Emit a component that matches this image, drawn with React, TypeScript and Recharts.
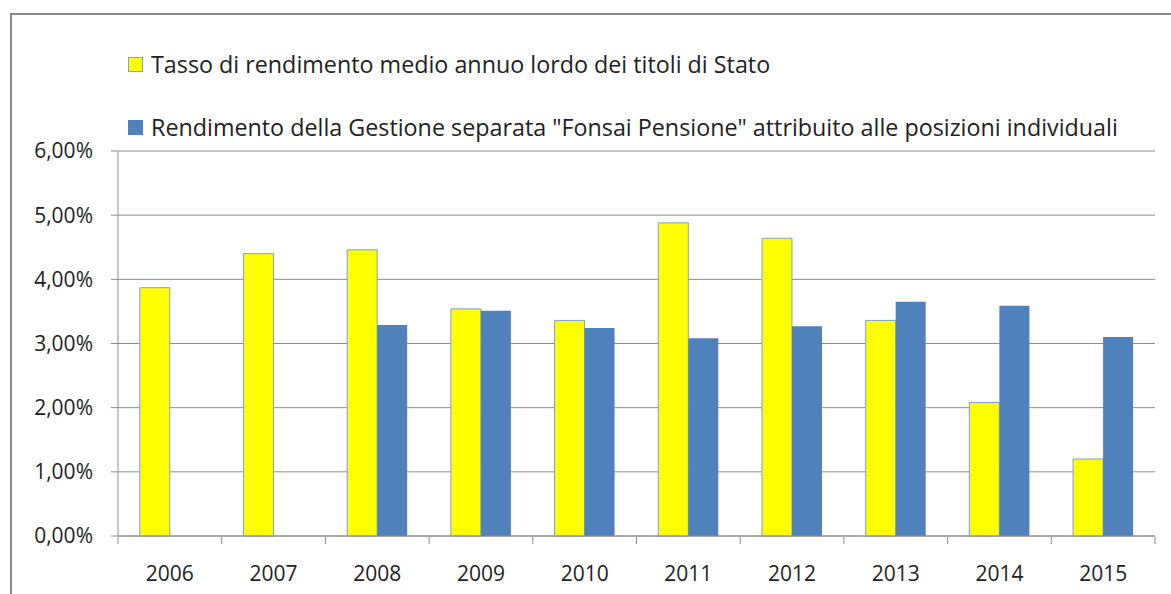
import React from 'react';
import { BarChart, Bar, XAxis, YAxis, CartesianGrid } from 'recharts';

const years = ['2006', '2007', '2008', '2009', '2010', '2011', '2012', '2013', '2014', '2015'];
const tassoTitoli = [3.87, 4.4, 4.46, 3.54, 3.36, 4.88, 4.64, 3.36, 2.08, 1.2];
const rendimentoGestione = [null, null, 3.29, 3.51, 3.24, 3.08, 3.27, 3.65, 3.59, 3.1];
const yTicks = [0, 1, 2, 3, 4, 5, 6];
const seriesNames = [
  'Tasso di rendimento medio annuo lordo dei titoli di Stato',
  'Rendimento della Gestione separata "Fonsai Pensione" attribuito alle posizioni individuali',
];

const FONT = '"Open Sans", sans-serif';
const GRID = '#8c8c8c';

const chartData = years.map((year, i) => ({
  year,
  tasso: tassoTitoli[i],
  gestione: rendimentoGestione[i],
}));

// label centred in the band, tick line on the band's left edge (and right edge for the last one)
const YearTick = (props: any) => {
  const { x, y, payload, index } = props;
  const half = 1037 / years.length / 2;
  return (
    <g>
      <line x1={x - half} y1={y - 7} x2={x - half} y2={y} stroke={GRID} />
      {index === years.length - 1 && (
        <line x1={x + half} y1={y - 7} x2={x + half} y2={y} stroke={GRID} />
      )}
      <text x={x} y={y + 37} textAnchor="middle" fontFamily={FONT} fontSize={21} fill="#222">
        {payload.value}
      </text>
    </g>
  );
};

const LegendRow = ({ color, border, label, top }: { color: string; border: string; label: string; top: number }) => (
  <div style={{ position: 'absolute', left: 128, top, height: 24, display: 'flex', alignItems: 'center', whiteSpace: 'nowrap' }}>
    <div style={{ width: 13, height: 13, background: color, border: `1px solid ${border}`, marginRight: 8 }} />
    <span style={{ fontFamily: FONT, fontSize: 23.3, lineHeight: '24px', color: '#222' }}>{label}</span>
  </div>
);

export default function App() {
  return (
    <div style={{ position: 'absolute', left: 0, top: 0, width: 1171, height: 594, background: '#fff', overflow: 'hidden' }}>
      <div
        style={{
          position: 'absolute',
          left: 10,
          top: 13,
          width: 1200,
          height: 620,
          borderLeft: '2px solid #888',
          borderTop: '2px solid #888',
        }}
      />
      <LegendRow color="#ffff00" border="#7f9fcf" label={seriesNames[0]} top={52} />
      <LegendRow color="#4f81bd" border="#4f81bd" label={seriesNames[1]} top={115} />
      <div style={{ position: 'absolute', left: 0, top: 0 }}>
        <BarChart
          width={1171}
          height={594}
          data={chartData}
          margin={{ top: 151, right: 16, left: 18, bottom: 8 }}
          barCategoryGap="21%"
          barGap={0}
        >
          <CartesianGrid vertical={false} stroke={GRID} />
          <XAxis
            dataKey="year"
            height={50}
            axisLine={{ stroke: GRID }}
            tickLine={false}
            tick={<YearTick />}
            interval={0}
          />
          <YAxis
            width={100}
            domain={[0, 6]}
            ticks={yTicks}
            axisLine={{ stroke: GRID }}
            tickLine={{ stroke: GRID }}
            tickSize={7}
            tickMargin={18}
            tickFormatter={(v: number) => `${v.toFixed(2).replace('.', ',')}%`}
            tick={{ fontFamily: FONT, fontSize: 21, fill: '#222' }}
          />
          <Bar dataKey="tasso" name={seriesNames[0]} fill="#ffff00" stroke="#7f9fcf" strokeWidth={1} isAnimationActive={false} />
          <Bar dataKey="gestione" name={seriesNames[1]} fill="#4f81bd" isAnimationActive={false} />
        </BarChart>
      </div>
    </div>
  );
}
